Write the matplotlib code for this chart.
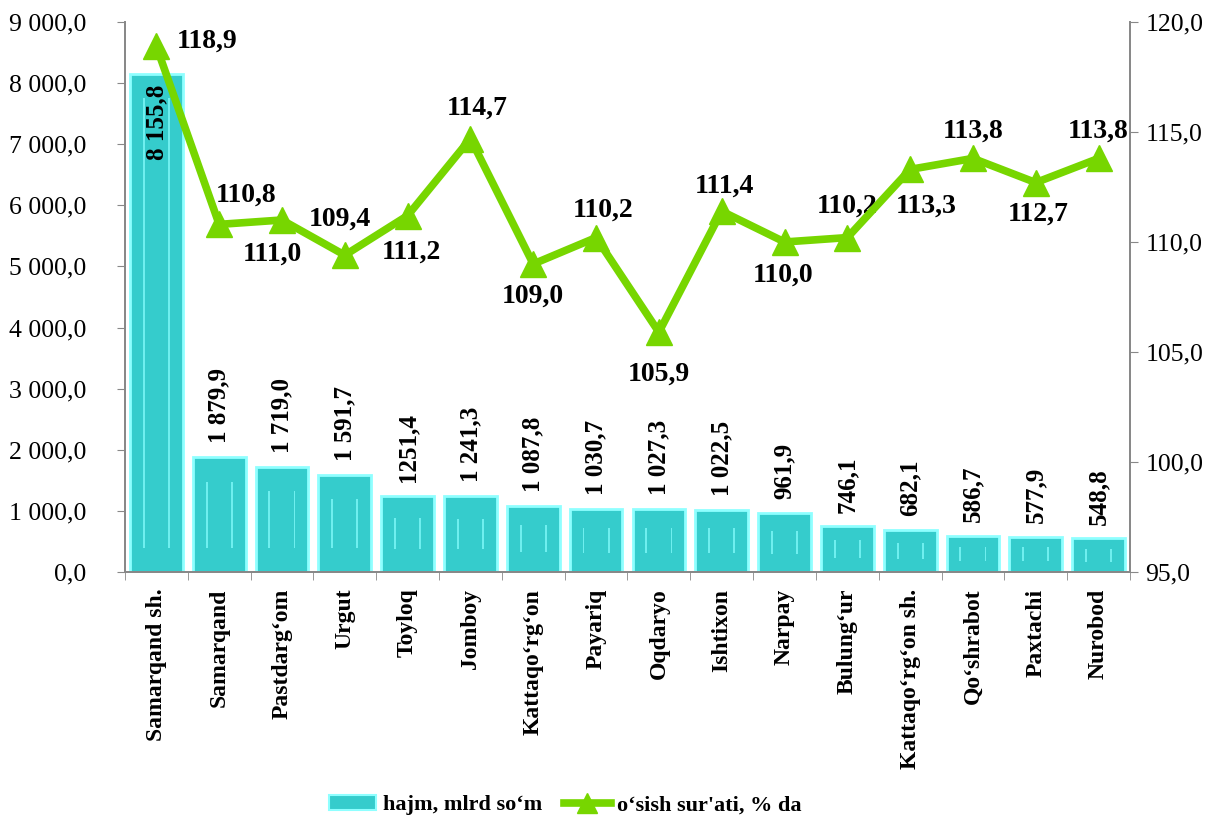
import numpy as np
import matplotlib
matplotlib.use("Agg")
import matplotlib.pyplot as plt
from matplotlib.ticker import FuncFormatter, FixedLocator
from matplotlib.lines import Line2D
from matplotlib.patches import Patch

# data
districts = ["Samarqand sh.", "Samarqand", "Pastdarg‘om", "Urgut", "Toyloq", "Jomboy",
             "Kattaqo‘rg‘on", "Payariq", "Oqdaryo", "Ishtixon", "Narpay", "Bulung‘ur",
             "Kattaqo‘rg‘on sh.", "Qo‘shrabot", "Paxtachi", "Nurobod"]
volume = [8155.8, 1879.9, 1719.0, 1591.7, 1251.4, 1241.3, 1087.8, 1030.7,
          1027.3, 1022.5, 961.9, 746.1, 682.1, 586.7, 577.9, 548.8]
volume_labels = ["8 155,8", "1 879,9", "1 719,0", "1 591,7", "1251,4", "1 241,3",
                 "1 087,8", "1 030,7", "1 027,3", "1 022,5", "961,9", "746,1",
                 "682,1", "586,7", "577,9", "548,8"]
growth = [118.9, 110.8, 111.0, 109.4, 111.2, 114.7, 109.0, 110.2,
          105.9, 111.4, 110.0, 110.2, 113.3, 113.8, 112.7, 113.8]

# label offsets for the growth line (pixels, right / up)
growth_offsets = [(51, 5), (27, 29), (-10, -34), (-5, 36), (4, -37), (7, 30),
                  (0, -32), (7, 27), (0, -42), (3, 25), (-1, -33), (0, 31),
                  (16, -37), (0, 27), (2, -32), (0, 27)]

plt.rcParams['font.family'] = ['Liberation Serif', 'DejaVu Serif']

BAR = '#35CCCC'
GREEN = '#77D600'
GRAY = '#888888'

fig = plt.figure(figsize=(12.19, 8.36), dpi=100)
ax = fig.add_axes([0.1025, 0.3158, 0.8245, 0.6579])
ax2 = ax.twinx()

x = np.arange(len(districts))
ax.bar(x, volume, width=0.84, color=BAR, edgecolor='#8FFFFF', linewidth=2, zorder=2)
# light inner strips, a rough bevel look
inset = [min(400, v * 0.3) for v in volume]
inner_h = [v - 2 * s for v, s in zip(volume, inset)]
for side in (-0.2, 0.2):
    ax.bar(x + side, inner_h, width=0.03, bottom=inset, color='#6FEFEF',
           linewidth=0, zorder=3)

ax.set_xlim(-0.5, len(districts) - 0.5)
ax.set_ylim(0, 9000)
ax.set_yticks(np.arange(0, 9001, 1000))
ax.yaxis.set_major_formatter(FuncFormatter(
    lambda v, p: f"{v:,.1f}".replace(",", " ").replace(".", ",")))

ax.set_xticks(x)
ax.set_xticklabels(districts, rotation=90, fontsize=17, fontweight='bold')
ax.tick_params(axis='x', length=0, pad=12)
ax.xaxis.set_minor_locator(FixedLocator(np.arange(-0.5, len(districts), 1)))
ax.tick_params(axis='x', which='minor', length=6, color=GRAY)
ax.tick_params(axis='y', labelsize=18.5, length=6, color=GRAY, pad=22)

for a in (ax, ax2):
    a.spines['top'].set_visible(False)
    for sp in ['left', 'bottom', 'right']:
        a.spines[sp].set_color(GRAY)
        a.spines[sp].set_linewidth(1.3)

# bar value labels
for i, (v, lab) in enumerate(zip(volume, volume_labels)):
    if i == 0:
        ax.annotate(lab, (i, v), xytext=(0, -8), textcoords='offset points',
                    rotation=90, ha='center', va='top', fontsize=18, fontweight='bold')
    else:
        ax.annotate(lab, (i, v), xytext=(0, 10), textcoords='offset points',
                    rotation=90, ha='center', va='bottom', fontsize=18, fontweight='bold')

ax2.plot(x, growth, color=GREEN, linewidth=5.5, marker='^', markersize=19,
         markerfacecolor=GREEN, markeredgecolor=GREEN, zorder=5)
ax2.set_ylim(95, 120)
ax2.set_yticks(np.arange(95, 120.1, 5))
ax2.yaxis.set_major_formatter(FuncFormatter(lambda v, p: f"{v:.1f}".replace(".", ",")))
ax2.tick_params(axis='y', labelsize=18.5, length=6, color=GRAY, pad=5)

for i, (g, off) in enumerate(zip(growth, growth_offsets)):
    ax2.annotate(f"{g:.1f}".replace(".", ","), (i, g),
                 xytext=(off[0] * 0.72, off[1] * 0.72), textcoords='offset points',
                 ha='center', va='center', fontsize=20, fontweight='bold')

handles = [Patch(facecolor=BAR, edgecolor='#8FFFFF', linewidth=1.5),
           Line2D([0], [0], color=GREEN, linewidth=5.5, marker='^', markersize=15)]
fig.legend(handles, ["hajm, mlrd so‘m", "o‘sish sur'ati, % da"],
           loc='center', bbox_to_anchor=(0.464, 0.037), ncol=2, frameon=False,
           prop={'size': 16, 'weight': 'bold'}, handlelength=2.1,
           handletextpad=0.3, columnspacing=1.0)

fig.savefig("out.png", dpi=100)
